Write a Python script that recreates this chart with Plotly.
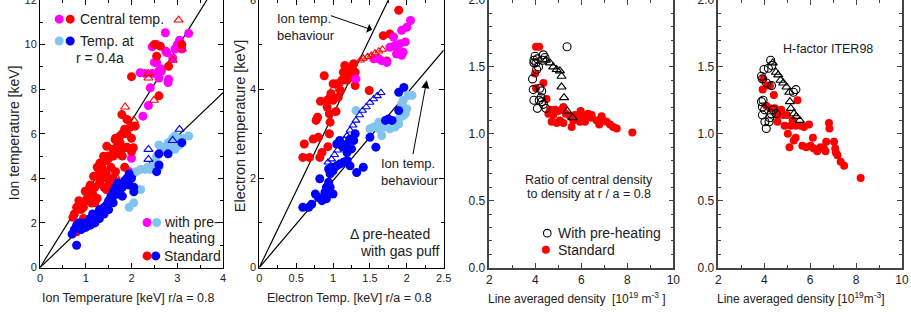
import plotly.graph_objects as go

# ---------------- Panel 1: ion temperature ----------------
p1_std_central_x = [0.72,0.75,0.8,0.85,0.9,0.95,1.0,1.05,1.1,1.1,1.15,1.2,1.2,1.25,1.3,1.3,1.35,1.35,1.4,1.4,1.45,1.45,1.5,1.5,1.55,1.55,1.6,1.6,1.65,1.7,1.7,1.75,1.75,1.8,1.8,1.85,1.9,1.9,1.97,2.0,2.08,1.85,1.6,1.5,1.45,1.3,1.25,1.05,0.95,0.8,2.0,2.6,2.55,2.81,2.5,2.63,3.1,1.79,2.0,2.04,1.75,1.65,0.88,0.99,1.09,1.17,1.31,1.39,1.46,1.64,1.9,1.13,1.53,1.68]
p1_std_central_y = [2.25,2.4,2.7,3.0,2.6,2.7,3.0,3.2,3.5,3.7,3.3,3.6,2.9,3.1,3.8,4.3,4.0,4.5,4.3,3.6,3.5,4.8,4.9,5.0,4.5,3.7,5.0,5.3,5.8,5.5,5.1,5.9,5.6,6.0,5.0,6.2,6.0,5.4,6.3,5.8,6.34,4.5,4.0,3.9,4.2,4.0,4.5,3.0,2.2,1.6,8.56,7.7,9.48,9.03,10.0,9.93,10.0,6.86,5.2,5.37,5.3,4.3,2.74,3.42,3.64,4.09,4.69,4.99,5.44,5.74,6.64,2.89,3.49,3.64]
p1_pre_central_x = [2.0,1.95,2.25,2.37,2.41,2.19,2.3,2.45,2.5,2.59,2.6,2.65,2.77,2.75,2.81,2.8,2.9,2.95,3.0,3.05,3.1,2.74,3.25,2.55,2.45,2.55,2.65]
p1_pre_central_y = [4.9,4.3,6.79,7.27,8.06,8.74,8.7,8.7,9.2,8.81,8.5,8.8,9.64,9.7,8.44,8.3,9.4,9.8,10.0,10.2,9.8,10.53,10.5,10.0,9.9,9.2,8.9]
p1_gas_central_x = [3.03,2.37,2.37,2.49,1.86,2.05,1.85,1.65,2.9,3.1]
p1_gas_central_y = [11.1,8.5,8.7,7.5,7.2,6.6,5.3,4.1,9.3,9.8]
p1_std_mid_x = [0.7,0.75,0.8,0.8,0.85,0.9,0.95,1.0,1.05,1.1,1.1,1.15,1.2,1.25,1.3,1.35,1.4,1.45,1.5,1.5,1.55,1.6,1.6,1.65,1.7,1.7,1.75,1.8,1.85,1.9,1.95,1.95,2.0,2.05,2.05,1.8,1.6,1.4,1.0,0.9,2.55,2.6,2.8,3.1,2.6,1.3,1.2]
p1_std_mid_y = [1.5,1.7,1.0,1.9,2.0,1.7,1.8,1.8,2.0,2.2,1.9,2.4,2.2,2.4,2.6,2.5,2.7,2.8,2.6,3.0,3.2,2.9,3.4,3.6,3.3,3.8,3.5,3.6,3.9,4.0,4.2,3.7,4.0,3.6,3.4,3.2,3.2,2.4,2.0,2.0,4.3,5.1,5.1,5.6,4.6,2.2,2.0]
p1_pre_mid_x = [1.95,2.05,2.2,2.1,2.2,2.3,2.4,2.5,2.5,2.55,2.6,2.65,2.7,2.75,2.8,2.85,2.9,2.95,3.0,2.95,3.05,3.1,3.25,2.35,2.6]
p1_pre_mid_y = [2.7,2.9,3.5,4.3,4.4,4.4,4.4,4.4,4.7,5.0,5.5,5.2,5.4,5.3,5.6,5.5,5.8,5.9,5.6,5.3,5.5,5.8,5.9,4.5,4.5]
p1_gas_mid_x = [2.37,2.37,3.05,2.9]
p1_gas_mid_y = [5.3,4.85,6.2,5.7]
p1_line_slopes = [3.29, 1.96]

# ---------------- Panel 2: electron temperature ----------------
p2_std_central_x = [0.61,0.59,0.68,0.73,0.8,0.82,0.85,0.93,0.95,0.79,0.77,0.83,0.88,0.92,0.95,0.96,1.0,1.04,1.07,1.1,1.05,1.12,1.14,1.16,1.21,1.23,1.25,1.28,1.3,1.3,1.19,1.24,1.49,1.68,1.77,1.73,1.89,1.0,0.97,0.92,1.18]
p2_std_central_y = [2.77,2.47,2.47,2.88,2.92,2.47,2.58,2.71,3.0,3.37,3.3,3.73,4.3,3.6,3.45,3.26,3.75,3.5,3.82,3.97,4.12,4.2,4.38,4.53,4.42,4.3,4.5,4.57,4.38,4.08,4.2,4.27,3.97,5.2,5.24,4.63,5.77,4.12,3.9,3.75,4.27]
p2_pre_central_x = [1.31,1.55,1.66,1.73,1.82,1.84,1.86,1.91,1.93,1.95,1.98,2.0,2.05,1.86,1.77,1.93,1.62]
p2_pre_central_y = [4.23,4.68,4.64,4.6,5.17,4.98,4.79,5.02,5.32,4.83,5.06,5.39,5.54,4.94,4.94,4.76,4.68]
p2_gas_central_x = [0.92,0.95,1.0,1.04,1.08,1.37,1.41,1.47,1.52,1.57,1.62,1.67]
p2_gas_central_y = [3.78,3.85,4.0,4.09,4.12,4.65,4.69,4.73,4.76,4.81,4.85,4.89]
p2_std_mid_x = [0.59,0.67,0.71,0.76,0.8,0.85,0.89,0.82,0.91,0.94,0.96,0.94,0.98,1.0,1.05,1.09,1.14,1.19,1.23,1.32,1.41,0.91,1.0,0.96,1.05,1.09,1.14,1.19,1.23,1.28,1.3,1.25,1.19,1.5,1.58,1.71,1.75,1.8,1.89,1.89,1.96]
p2_std_mid_y = [1.35,1.35,1.42,1.65,1.57,1.5,1.69,1.99,1.8,1.91,2.1,2.21,2.25,2.17,2.28,2.32,2.36,2.4,2.28,2.13,2.25,1.54,1.65,1.8,2.77,2.85,2.7,2.77,2.88,2.85,3.0,2.66,2.58,2.92,2.7,3.3,3.33,3.3,3.52,3.93,4.04]
p2_pre_mid_x = [1.31,1.5,1.55,1.62,1.66,1.62,1.77,1.84,1.86,1.91,1.95,1.98,2.0,1.95,2.02,2.07,1.93,1.89,1.82,1.71]
p2_pre_mid_y = [3.52,3.11,3.15,3.11,2.96,3.26,3.11,3.15,3.3,3.37,3.41,3.45,3.56,3.75,3.86,3.86,3.67,3.22,3.22,3.15]
p2_gas_mid_x = [0.93,0.98,1.02,1.06,1.1,1.15,1.19,1.23,1.27,1.31,1.36,1.4,1.45,1.5,1.55,1.6,1.65]
p2_gas_mid_y = [2.36,2.43,2.53,2.63,2.75,2.86,2.96,3.08,3.19,3.3,3.42,3.52,3.6,3.7,3.78,3.85,3.92]
p2_line_slopes = [3.43, 1.95]

# ---------------- Panel 3: density peaking ----------------
p3_pre_x = [3.94,3.94,3.88,3.91,3.94,4.09,4.2,4.28,4.25,4.28,4.35,4.46,4.17,4.35,4.42,4.09,4.03,4.14,4.32,5.38,4.06,3.99]
p3_pre_y = [1.55,1.53,1.41,1.33,1.25,1.19,1.34,1.32,1.27,1.24,1.22,1.19,1.25,1.59,1.57,1.56,1.53,1.5,1.55,1.65,1.48,1.58]
p3_gas_x = [4.46,4.64,4.78,4.93,5.07,5.14,5.14,5.25,5.39,5.62]
p3_gas_y = [1.55,1.53,1.5,1.48,1.47,1.43,1.35,1.27,1.17,1.12]
p3_std_x = [4.03,4.17,3.99,4.03,4.35,4.49,4.64,4.71,4.86,5.0,5.14,5.22,5.33,5.07,4.93,5.22,5.51,5.58,5.72,5.87,5.97,6.09,6.23,6.3,6.45,6.67,6.78,6.88,6.96,7.1,7.25,7.39,7.54,8.22,5.65,5.94,6.16,6.45,4.57,4.78]
p3_std_y = [1.65,1.65,1.45,1.34,1.38,1.26,1.18,1.09,1.18,1.17,1.18,1.2,1.15,1.1,1.08,1.08,1.13,1.05,1.14,1.12,1.17,1.14,1.13,1.15,1.12,1.1,1.07,1.13,1.1,1.09,1.07,1.05,1.04,1.01,1.1,1.09,1.09,1.14,1.15,1.14]

# ---------------- Panel 4: H-factor ----------------
p4_pre_x = [3.99,3.88,3.92,3.95,3.88,3.92,3.92,4.02,4.09,4.21,4.24,4.31,4.39,4.28,4.33,4.18,4.1,4.32,5.38,5.27,4.51,4.03]
p4_pre_y = [1.48,1.43,1.41,1.25,1.24,1.2,1.14,1.18,1.04,1.09,1.12,1.15,1.18,1.55,1.51,1.49,1.38,1.36,1.33,1.31,1.15,1.09]
p4_gas_x = [4.37,4.51,4.61,4.71,4.83,4.97,5.09,5.12,5.16,5.29,5.4,5.55]
p4_gas_y = [1.53,1.46,1.44,1.4,1.38,1.35,1.31,1.24,1.19,1.15,1.13,1.1]
p4_std_x = [3.96,3.93,4.13,4.25,4.42,4.09,4.25,4.46,4.53,4.62,4.58,4.74,4.82,4.89,4.99,5.03,5.1,5.17,5.24,5.38,5.45,5.29,5.37,5.59,5.73,5.66,5.83,5.95,6.02,6.12,6.16,6.31,6.45,6.6,6.7,6.67,6.82,6.84,7.04,7.09,7.12,7.19,7.33,7.48,8.2]
p4_std_y = [1.41,1.33,1.36,1.36,1.29,1.21,1.19,1.19,1.16,1.14,1.09,1.18,1.14,1.06,1.14,1.0,0.9,1.06,1.1,1.06,1.25,0.95,0.97,1.06,1.05,0.91,0.9,1.07,0.91,0.97,0.89,0.87,0.9,0.89,0.94,0.87,1.08,1.04,0.94,0.89,0.86,0.84,0.79,0.76,0.67]

RED = "#ff0000"
MAG = "#ff00ff"
BLUE = "#0000ff"
LBLUE = "#80c4ef"
FONT = "Liberation Sans, Arial, sans-serif"

fig = go.Figure()

def dots(x, y, color, xa, ya, size=9):
    fig.add_trace(go.Scatter(x=x, y=y, mode="markers", xaxis=xa, yaxis=ya,
                             marker=dict(color=color, size=size, line=dict(width=0)),
                             showlegend=False, hoverinfo="skip"))

def tris(x, y, color, xa, ya, size=8):
    fig.add_trace(go.Scatter(x=x, y=y, mode="markers", xaxis=xa, yaxis=ya,
                             marker=dict(symbol="triangle-up-open", color=color, size=size,
                                         line=dict(width=1.1, color=color)),
                             showlegend=False, hoverinfo="skip"))

def circ_open(x, y, xa, ya, size=8):
    fig.add_trace(go.Scatter(x=x, y=y, mode="markers", xaxis=xa, yaxis=ya,
                             marker=dict(symbol="circle-open", color="black", size=size,
                                         line=dict(width=1.1, color="black")),
                             showlegend=False, hoverinfo="skip"))

def slope_lines(slopes, xmax, xa, ya):
    for k in slopes:
        fig.add_trace(go.Scatter(x=[0, xmax], y=[0, k * xmax], mode="lines", xaxis=xa, yaxis=ya,
                                 line=dict(color="black", width=1.2),
                                 showlegend=False, hoverinfo="skip"))

# Panel 1
slope_lines(p1_line_slopes, 4, "x", "y")
dots(p1_pre_central_x, p1_pre_central_y, MAG, "x", "y")
dots(p1_pre_mid_x, p1_pre_mid_y, LBLUE, "x", "y")
dots(p1_std_central_x, p1_std_central_y, RED, "x", "y")
dots(p1_std_mid_x, p1_std_mid_y, BLUE, "x", "y")
tris(p1_gas_central_x, p1_gas_central_y, RED, "x", "y")
tris(p1_gas_mid_x, p1_gas_mid_y, BLUE, "x", "y")

# Panel 2
slope_lines(p2_line_slopes, 2.5, "x2", "y2")
dots(p2_std_central_x, p2_std_central_y, RED, "x2", "y2")
dots(p2_pre_central_x, p2_pre_central_y, MAG, "x2", "y2")
dots(p2_pre_mid_x, p2_pre_mid_y, LBLUE, "x2", "y2")
dots(p2_std_mid_x, p2_std_mid_y, BLUE, "x2", "y2")
tris(p2_gas_central_x, p2_gas_central_y, RED, "x2", "y2", 7)
tris(p2_gas_mid_x, p2_gas_mid_y, BLUE, "x2", "y2", 7)

# Panel 3
dots(p3_std_x, p3_std_y, RED, "x3", "y3", 8)
circ_open(p3_pre_x, p3_pre_y, "x3", "y3")
tris(p3_gas_x, p3_gas_y, "black", "x3", "y3")

# Panel 4
dots(p4_std_x, p4_std_y, RED, "x4", "y4", 8)
circ_open(p4_pre_x, p4_pre_y, "x4", "y4")
tris(p4_gas_x, p4_gas_y, "black", "x4", "y4")

ydom = [0.164, 1.0]
def ax(domain, rng, dtick, minor, anchor, fmt=None, lc="black", lw=1, fs=11):
    d = dict(domain=domain, range=rng, dtick=dtick, tick0=0, anchor=anchor,
             showline=True, mirror="allticks", linecolor=lc, linewidth=lw,
             ticks="inside", ticklen=5, tickcolor=lc, tickwidth=1,
             showgrid=False, zeroline=False, automargin=False,
             ticklabeloverflow="allow",
             tickfont=dict(family=FONT, size=fs, color="#222"),
             minor=dict(dtick=minor, ticks="inside", ticklen=3, tickcolor=lc, showgrid=False))
    if fmt:
        d["tickformat"] = fmt
    return d

layout = dict(
    width=911, height=320,
    margin=dict(l=0, r=0, t=0, b=0, autoexpand=False),
    paper_bgcolor="white", plot_bgcolor="white",
    font=dict(family=FONT, color="#222"),
    showlegend=False,
    xaxis=ax([40/911, 223/911], [0, 4], 1, 0.5, "y"),
    yaxis=ax(ydom, [0, 12], 2, 1, "x"),
    xaxis2=ax([259.3/911, 443.7/911], [0, 2.5], 0.5, 0.25, "y2"),
    yaxis2=ax(ydom, [0, 6], 2, 1, "x2"),
    xaxis3=ax([489.3/911, 673.3/911], [2, 10], 2, 1, "y3", lc="#444", lw=1.5, fs=12),
    yaxis3=ax(ydom, [0, 2], 0.5, 0.1, "x3", ".1f", lc="#444", lw=1.5, fs=12),
    xaxis4=ax([718.3/911, 902/911], [2, 10], 2, 1, "y4", lc="#444", lw=1.5, fs=12),
    yaxis4=ax(ydom, [0, 2], 0.5, 0.1, "x4", ".1f", lc="#444", lw=1.5, fs=12),
)
fig.update_layout(**layout)

ann = []
def txt(text, x, y, xref, yref, size=13, xanchor="left", angle=0, align="left"):
    ann.append(dict(text=text, x=x, y=y, xref=xref, yref=yref, showarrow=False,
                    xanchor=xanchor, yanchor="middle", textangle=angle, align=align,
                    font=dict(family=FONT, size=size, color="#222")))

# axis titles
txt("Ion Temperature [keV] r/a = 0.8", 0.1406, 0.069, "paper", "paper", 12.5, "center")
txt("Ion temperature [keV]", 0.0154, 0.584, "paper", "paper", 14, "center", -90)
txt("Electron Temp. [keV] r/a = 0.8", 0.384, 0.069, "paper", "paper", 12.5, "center")
txt("Electron temperature [keV]", 0.2635, 0.606, "paper", "paper", 14.5, "center", -90)
txt("Line averaged density  [10<sup>19</sup> m<sup>-3</sup> ]", 0.633, 0.069, "paper", "paper", 12, "center")
txt("Line averaged density [10<sup>19</sup>m<sup>-3</sup>]", 0.879, 0.069, "paper", "paper", 12, "center")

# panel 1 legend texts
txt("Central temp.", 0.82, 11.14, "x", "y", 14)
txt("Temp. at", 0.82, 10.16, "x", "y", 14)
txt("r = 0.4a", 0.74, 9.41, "x", "y", 14)
txt("with pre-", 2.66, 2.02, "x", "y", 14)
txt("heating", 2.77, 1.32, "x", "y", 14)
txt("Standard", 2.66, 0.52, "x", "y", 14)

# panel 2 texts
txt("Ion temp.<br>behaviour", 0.21, 5.4, "x2", "y2", 13)
txt("Ion temp.<br>behaviour", 1.62, 2.14, "x2", "y2", 13)
txt("Δ pre-heated", 1.2, 0.75, "x2", "y2", 14)
txt("with gas puff", 1.34, 0.37, "x2", "y2", 14)
ann.append(dict(x=1.53, y=5.33, ax=0.95, ay=5.66, xref="x2", yref="y2", axref="x2", ayref="y2",
                showarrow=True, arrowhead=1, arrowsize=1.6, arrowwidth=1, arrowcolor="black", text=""))
ann.append(dict(x=2.27, y=4.2, ax=2.08, ay=2.51, xref="x2", yref="y2", axref="x2", ayref="y2",
                showarrow=True, arrowhead=2, arrowsize=1.6, arrowwidth=1, arrowcolor="black", text=""))

# panel 3 texts
txt("Ratio of central density", 6.32, 0.656, "x3", "y3", 12.5, "center")
txt("to density at r / a = 0.8", 6.32, 0.553, "x3", "y3", 12.5, "center")
txt("With pre-heating", 4.9, 0.257, "x3", "y3", 14)
txt("Standard", 4.9, 0.132, "x3", "y3", 14)

# panel 4 text
txt("H-factor ITER98", 6.79, 1.63, "x4", "y4", 12.5, "center")

fig.update_layout(annotations=ann)

# legend keys drawn as pixel-sized circles
def key(x, y, xref, yref, fill, line=None, r=4.5):
    fig.add_shape(type="circle", xref=xref, yref=yref, xsizemode="pixel", ysizemode="pixel",
                  xanchor=x, yanchor=y, x0=-r, x1=r, y0=-r, y1=r,
                  fillcolor=fill, line=dict(color=line or fill, width=1.1 if line else 0))

key(0.42, 11.14, "x", "y", MAG)
key(0.66, 11.14, "x", "y", RED)
key(0.42, 10.16, "x", "y", LBLUE)
key(0.66, 10.16, "x", "y", BLUE)
key(2.34, 2.02, "x", "y", MAG)
key(2.55, 2.02, "x", "y", LBLUE)
key(2.34, 0.52, "x", "y", RED)
key(2.53, 0.52, "x", "y", BLUE)
key(4.52, 0.257, "x3", "y3", "white", "black", 3.8)
key(4.46, 0.132, "x3", "y3", RED, None, 4)

fig.write_html("out.html", config={"displayModeBar": False},
               post_script="document.body.style.margin='0';document.body.style.overflow='hidden';")
